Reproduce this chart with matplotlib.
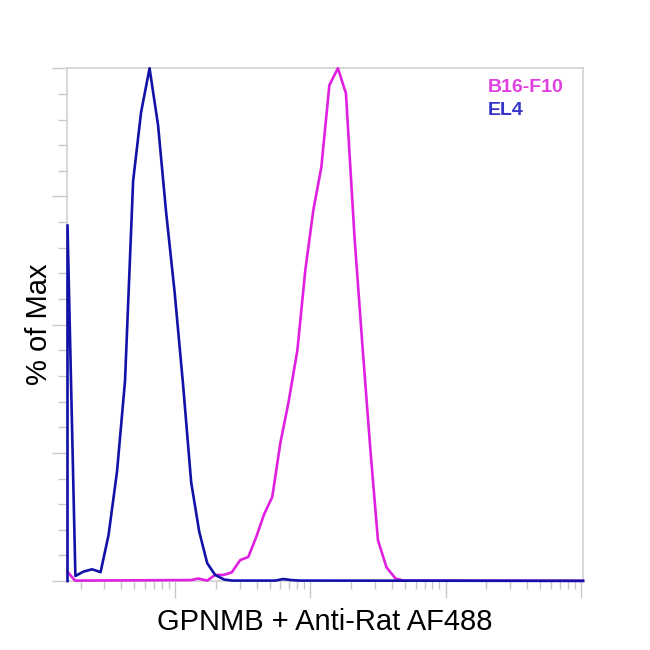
import matplotlib.pyplot as plt
from matplotlib.ticker import MultipleLocator, LogLocator, NullFormatter

plt.rcParams["font.family"] = ["Liberation Sans", "DejaVu Sans"]

# EL4 histogram (intensity, % of max)
el4_x = [16, 16, 18.3, 21.0, 24.3, 28.1, 32.2, 37.2, 42.6, 48.9, 56.0, 64.7,
         74.8, 85.8, 99.2, 114.6, 131.4, 150.6, 172.7, 197.8, 230.6, 264.2,
         303, 550, 631, 722, 843, 104000]
el4_y = [0, 69.4, 1.0, 1.85, 2.3, 1.75, 9.0, 21.4, 39.0, 78.0, 91.4, 100,
         88.9, 71.9, 56.3, 38.2, 19.3, 9.7, 3.5, 1.2, 0.3, 0.1,
         0.1, 0.1, 0.4, 0.2, 0.1, 0.05]

# B16-F10 histogram
b16_x = [16, 18.2, 131.4, 148, 172.7, 197.8, 228.6, 262.4, 303, 347.5, 398,
         456, 523, 600, 688, 802, 918, 1052, 1206, 1383, 1600, 1834, 2118,
         2427, 2783, 3162, 3656, 4266, 4889, 104000]
b16_y = [1.8, 0.1, 0.2, 0.5, 0.1, 1.2, 1.2, 1.7, 4.1, 4.7, 8.6,
         13.1, 16.4, 26.9, 34.7, 45.0, 60.6, 72.3, 80.7, 96.7, 100, 95.1, 67.4,
         46.0, 25.5, 8.0, 2.7, 0.5, 0.1, 0.05]

el4_color = "#1212a8"
b16_color = "#e020e0"

fig = plt.figure(figsize=(6.5, 6.5), dpi=100)
ax = fig.add_axes([0.103, 0.106, 0.794, 0.789])

ax.plot(b16_x, b16_y, color=b16_color, lw=1.9, zorder=3, clip_on=False)
ax.plot(el4_x, el4_y, color=el4_color, lw=1.9, zorder=4, clip_on=False)

ax.set_xscale("log")
ax.set_xlim(15.85, 104000)
ax.set_ylim(0, 100)

ax.xaxis.set_major_locator(LogLocator(base=10, numticks=10))
ax.xaxis.set_minor_locator(LogLocator(base=10, subs=range(2, 10), numticks=50))
ax.xaxis.set_major_formatter(NullFormatter())
ax.xaxis.set_minor_formatter(NullFormatter())
ax.yaxis.set_major_locator(MultipleLocator(25))
ax.yaxis.set_minor_locator(MultipleLocator(5))
ax.yaxis.set_major_formatter(NullFormatter())

for s in ax.spines.values():
    s.set_color("#d4d4d4")
    s.set_linewidth(1.3)

ax.tick_params(axis="x", which="major", length=12.5, width=1, color="#c8c8c8")
ax.tick_params(axis="x", which="minor", length=5.5, width=1, color="#c8c8c8")
ax.tick_params(axis="y", which="major", length=11, width=1, color="#c8c8c8")
ax.tick_params(axis="y", which="minor", length=6.5, width=1, color="#c8c8c8")

ax.set_xlabel("GPNMB + Anti-Rat AF488", fontsize=21)
ax.xaxis.set_label_coords(0.5, -0.052)
ax.set_ylabel("% of Max", fontsize=21)
ax.yaxis.set_label_coords(-0.027, 0.5)

ax.text(0.816, 0.963, "B16-F10", transform=ax.transAxes, color="#e040e0",
        fontsize=14, fontweight="bold", va="center")
ax.text(0.816, 0.918, "EL4", transform=ax.transAxes, color="#3535c8",
        fontsize=14, fontweight="bold", va="center")

fig.savefig("out.png", dpi=100)
